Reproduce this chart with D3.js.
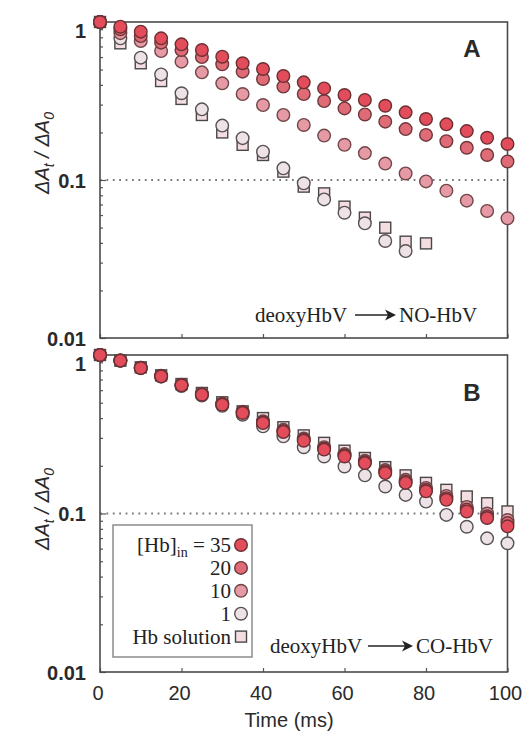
<!DOCTYPE html>
<html><head><meta charset="utf-8">
<script src="https://cdn.jsdelivr.net/npm/d3@7/dist/d3.min.js"></script>
<style>body{margin:0;background:#fff}svg{display:block}</style>
</head><body>
<script>
const times = [0,5,10,15,20,25,30,35,40,45,50,55,60,65,70,75,80,85,90,95,100];
// Panel A: deoxyHbV -> NO-HbV
const A35 = [1,0.934,0.869,0.788,0.722,0.665,0.603,0.548,0.504,0.455,0.415,0.380,0.345,0.321,0.295,0.268,0.243,0.225,0.204,0.185,0.169];
const A20 = [1,0.90,0.815,0.74,0.665,0.60,0.54,0.485,0.436,0.39,0.35,0.316,0.284,0.26,0.234,0.21,0.193,0.176,0.16,0.144,0.131];
const A10 = [1,0.85,0.758,0.655,0.561,0.480,0.409,0.350,0.298,0.258,0.223,0.191,0.167,0.148,0.127,0.110,0.098,0.0856,0.074,0.0637,0.0572];
const A1  = [1,0.788,0.595,0.466,0.354,0.280,0.221,0.184,0.151,0.1185,0.0953,0.0754,0.0621,0.0532,0.0411,0.0355];
const AHb = [1,0.733,0.548,0.423,0.326,0.258,0.200,0.167,0.144,0.113,0.0908,0.0823,0.0678,0.0578,0.0499,0.0407,0.0397];
// Panel B: deoxyHbV -> CO-HbV
const B35 = [1,0.921,0.828,0.734,0.644,0.562,0.486,0.431,0.372,0.327,0.288,0.253,0.229,0.208,0.180,0.156,0.138,0.122,0.103,0.0937,0.083];
const B20 = [1,0.923,0.83,0.737,0.647,0.566,0.49,0.435,0.377,0.332,0.292,0.257,0.233,0.211,0.184,0.159,0.141,0.125,0.106,0.096,0.087];
const B10 = [1,0.925,0.832,0.74,0.65,0.57,0.495,0.439,0.382,0.337,0.297,0.262,0.237,0.215,0.188,0.163,0.145,0.129,0.11,0.1,0.091];
const B1  = [1,0.92,0.826,0.73,0.638,0.555,0.478,0.42,0.355,0.307,0.262,0.229,0.198,0.174,0.148,0.131,0.119,0.098,0.0825,0.0697,0.0649];
const BHb = [1,0.921,0.836,0.744,0.656,0.576,0.503,0.441,0.400,0.350,0.311,0.279,0.249,0.224,0.196,0.174,0.156,0.141,0.128,0.116,0.103];

const xTicks = [0,20,40,60,80,100];
const yMajor = [0.01,0.1,1];
const yMinor = [0.02,0.03,0.04,0.05,0.06,0.07,0.08,0.09,0.2,0.3,0.4,0.5,0.6,0.7,0.8,0.9];
const legendLabels = ["35","20","10","1","Hb solution"];

const styles = {
  s35:{shape:"circle", fill:"#e34d5b", stroke:"#6b3033"},
  s20:{shape:"circle", fill:"#de6b76", stroke:"#6e383b"},
  s10:{shape:"circle", fill:"#e69aa6", stroke:"#704648"},
  s1: {shape:"circle", fill:"#ede3e7", stroke:"#575153"},
  sHb:{shape:"square", fill:"#f3dde1", stroke:"#4a4748"}
};

const W=522,H=732;
const svg = d3.select("body").append("svg").attr("width",W).attr("height",H);
svg.append("rect").attr("width",W).attr("height",H).attr("fill","#fff");

const x = d3.scaleLinear().domain([0,100]).range([100,507.5]);
const SANS = "'Liberation Sans', Arial, sans-serif";
const SERIF = "'Liberation Serif', 'Times New Roman', serif";

function drawPanel(top, bottom, series, letter, product, titleY){
  const y = d3.scaleLog().domain([0.01,1]).range([bottom, top]);
  const g = svg.append("g");
  g.append("line").attr("x1",x(0)).attr("x2",x(100)).attr("y1",y(0.1)).attr("y2",y(0.1))
    .attr("stroke","#7a7a7a").attr("stroke-width",1.8).attr("stroke-dasharray","1.8,4.6");
  const minorAx = d3.axisLeft(y).tickValues(yMinor).tickSize(-3).tickFormat("");
  g.append("g").attr("transform",`translate(${x(0)},0)`).call(minorAx)
    .call(s=>{s.select(".domain").remove(); s.selectAll("line").attr("stroke","#555").attr("stroke-width",1.2);});
  const majorAx = d3.axisLeft(y).tickValues(yMajor).tickSize(-6).tickPadding(14)
    .tickFormat(d=> d===1?"1":d===0.1?"0.1":"0.01");
  const ma = g.append("g").attr("transform",`translate(${x(0)},0)`).call(majorAx);
  ma.select(".domain").remove();
  ma.selectAll("line").attr("stroke","#555").attr("stroke-width",1.2);
  ma.selectAll("text").attr("font-family",SANS).attr("font-size",20).attr("fill","#2a2a2a")
    .attr("x",-14).attr("dy",(d)=> d===1? "0.78em":"0.35em")
    .attr("font-weight","bold");
  const bx = d3.axisBottom(x).tickValues(xTicks).tickSize(-4).tickFormat("");
  g.append("g").attr("transform",`translate(0,${bottom})`).call(bx)
    .call(s=>{s.select(".domain").remove(); s.selectAll("line").attr("stroke","#555").attr("stroke-width",1.2);});
  g.append("rect").attr("x",x(0)).attr("y",top).attr("width",x(100)-x(0)).attr("height",bottom-top)
    .attr("fill","none").attr("stroke","#4a4a4a").attr("stroke-width",1.6);
  const tt = g.append("text").attr("transform",`translate(49,${titleY}) rotate(-90)`)
    .attr("text-anchor","middle").attr("font-family",SANS).attr("font-size",20)
    .attr("font-style","italic").attr("fill","#2a2a2a");
  tt.append("tspan").text("\u0394A");
  tt.append("tspan").text("t").attr("font-size",14).attr("dy",5);
  tt.append("tspan").text(" / \u0394A").attr("dy",-5);
  tt.append("tspan").text("0").attr("font-size",14).attr("dy",5);
  g.append("text").attr("x",472).attr("y",letter.y).attr("text-anchor","middle")
    .attr("font-family",SANS).attr("font-weight","bold").attr("font-size",24).attr("fill","#2a2a2a").text(letter.t);
  const ry = product.y;
  g.append("text").attr("x",product.x0).attr("y",ry).attr("font-family",SERIF).attr("font-size",21)
    .attr("fill","#222").text("deoxyHbV");
  g.append("line").attr("x1",product.a0).attr("x2",product.a1-6).attr("y1",ry-7).attr("y2",ry-7)
    .attr("stroke","#222").attr("stroke-width",1.6);
  g.append("path").attr("d",`M${product.a1-11},${ry-12.5} L${product.a1},${ry-7} L${product.a1-11},${ry-1.5} L${product.a1-8},${ry-7} Z`)
    .attr("fill","#222");
  g.append("text").attr("x",product.x1).attr("y",ry).attr("font-family",SERIF).attr("font-size",21)
    .attr("fill","#222").text(product.t);
  series.forEach(s=>{
    const st = styles[s.key];
    const data = s.v.map((v,i)=>({t:times[i],v}));
    const sg = g.append("g");
    if(st.shape==="circle"){
      sg.selectAll("circle").data(data).join("circle")
        .attr("cx",d=>x(d.t)).attr("cy",d=>y(d.v)).attr("r",6.3)
        .attr("fill",st.fill).attr("stroke",st.stroke).attr("stroke-width",1.4);
    } else {
      sg.selectAll("rect").data(data).join("rect")
        .attr("x",d=>x(d.t)-5.5).attr("y",d=>y(d.v)-5.5).attr("width",11).attr("height",11)
        .attr("fill",st.fill).attr("stroke",st.stroke).attr("stroke-width",1.4);
    }
  });
  return y;
}

drawPanel(22, 338,
  [{key:"sHb",v:AHb},{key:"s1",v:A1},{key:"s10",v:A10},{key:"s20",v:A20},{key:"s35",v:A35}],
  {t:"A",y:57}, {t:"NO-HbV",y:322,x0:255,a0:355,a1:396,x1:399}, 153);
drawPanel(355, 672,
  [{key:"sHb",v:BHb},{key:"s1",v:B1},{key:"s10",v:B10},{key:"s20",v:B20},{key:"s35",v:B35}],
  {t:"B",y:401}, {t:"CO-HbV",y:653,x0:270,a0:368,a1:413,x1:416}, 509);

const xl = d3.axisBottom(x).tickValues(xTicks).tickSize(0).tickPadding(0);
const xg = svg.append("g").attr("transform","translate(-2.5,672)").call(xl);
xg.select(".domain").remove();
xg.selectAll("text").attr("font-family",SANS).attr("font-size",20).attr("fill","#2a2a2a")
  .attr("y",28).attr("dy",0);
svg.append("text").attr("x",289).attr("y",727).attr("text-anchor","middle")
  .attr("font-family",SANS).attr("font-size",20).attr("fill","#2a2a2a").text("Time (ms)");

const lg = svg.append("g");
lg.append("rect").attr("x",113).attr("y",525).attr("width",139).attr("height",132)
  .attr("fill","#fff").attr("stroke","#8c8c8c").attr("stroke-width",1.5);
const legKeys = ["s35","s20","s10","s1","sHb"];
legendLabels.forEach((lab,i)=>{
  const cy = 545 + i*22.9;
  const t = lg.append("text").attr("x",231).attr("y",cy+7).attr("text-anchor","end")
    .attr("font-family",SERIF).attr("font-size",21).attr("fill","#222");
  if(i===0){
    t.append("tspan").text("[Hb]");
    t.append("tspan").text("in").attr("font-size",14).attr("dy",5);
    t.append("tspan").text(" = "+lab).attr("dy",-5);
  } else t.text(lab);
  const st = styles[legKeys[i]];
  if(st.shape==="circle"){
    lg.append("circle").attr("cx",241).attr("cy",cy).attr("r",6.3)
      .attr("fill",st.fill).attr("stroke",st.stroke).attr("stroke-width",1.4);
  } else {
    lg.append("rect").attr("x",235.5).attr("y",cy-5.5).attr("width",11).attr("height",11)
      .attr("fill",st.fill).attr("stroke",st.stroke).attr("stroke-width",1.4);
  }
});
</script>
</body></html>
